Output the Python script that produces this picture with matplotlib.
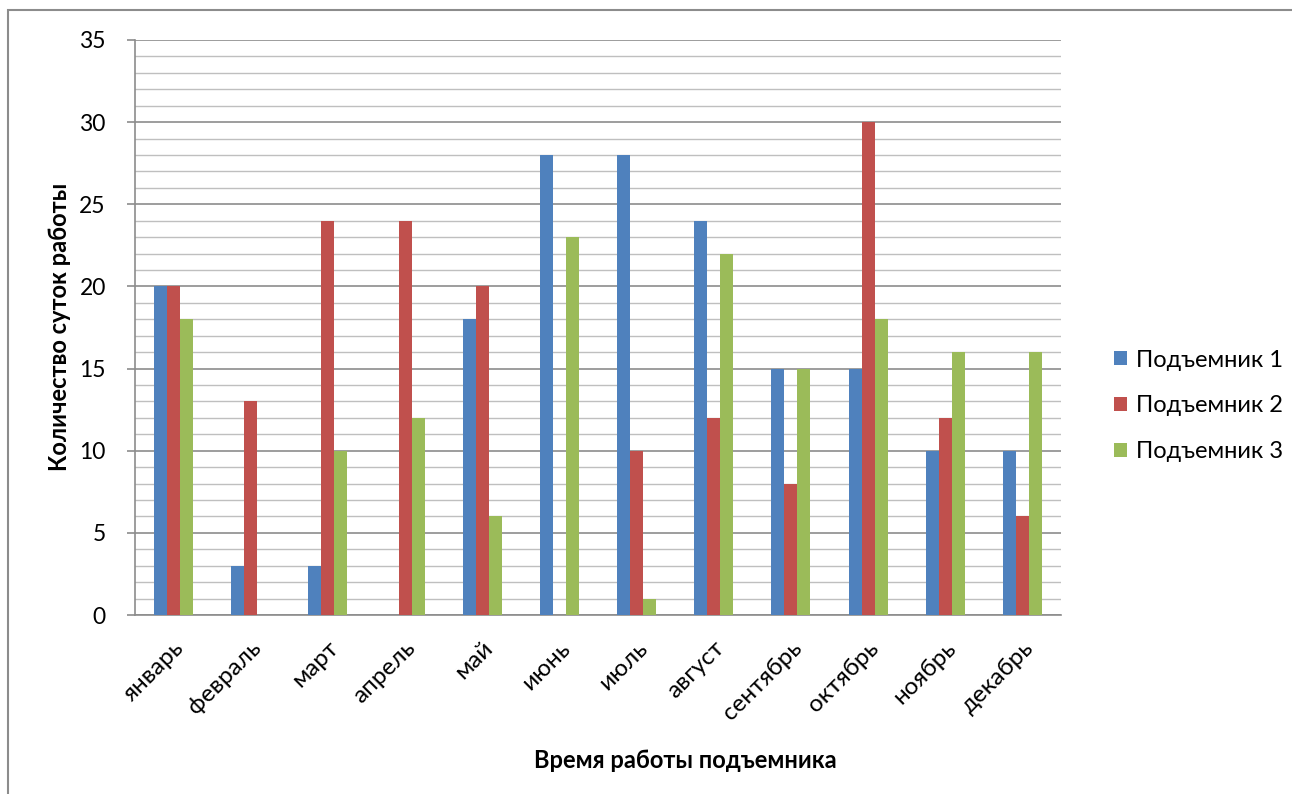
import numpy as np
import matplotlib.pyplot as plt
from matplotlib.patches import Rectangle

plt.rcParams['font.family'] = ['Lato', 'DejaVu Sans']

# Данные по месяцам
months = ['январь', 'февраль', 'март', 'апрель', 'май', 'июнь',
          'июль', 'август', 'сентябрь', 'октябрь', 'ноябрь', 'декабрь']
lift1 = [20, 3, 3, 0, 18, 28, 28, 24, 15, 15, 10, 10]
lift2 = [20, 13, 24, 24, 20, 0, 10, 12, 8, 30, 12, 6]
lift3 = [18, 0, 10, 12, 6, 23, 1, 22, 15, 18, 16, 16]
series_names = ['Подъемник 1', 'Подъемник 2', 'Подъемник 3']
colors = ['#4F81BD', '#C0504D', '#9BBB59']

W, H = 1292, 794
left, right, top, bottom = 135, 1061, 40, 615

fig = plt.figure(figsize=(W / 100, H / 100), dpi=100)
ax = fig.add_axes([left / W, 1 - bottom / H, (right - left) / W, (bottom - top) / H])

x = np.arange(len(months))
w = 0.168
for i, (vals, name, c) in enumerate(zip([lift1, lift2, lift3], series_names, colors)):
    ax.bar(x + (i - 1) * w, vals, width=w, color=c, label=name, zorder=3)

ax.set_xlim(-0.5, len(months) - 0.5)
ax.set_ylim(0, 35)
ax.set_yticks(np.arange(0, 36, 5))
ax.set_yticks(np.arange(0, 36, 1), minor=True)
ax.grid(axis='y', which='major', color='#8c8c8c', linewidth=1.2, zorder=0)
ax.grid(axis='y', which='minor', color='#bfbfbf', linewidth=1.0, zorder=0)
ax.tick_params(axis='y', which='major', length=6, width=1.2, color='#8c8c8c',
               labelsize=16.5, pad=15)
ax.tick_params(axis='y', which='minor', length=0)
ax.tick_params(axis='x', length=0, labelsize=17.5, pad=16)
ax.set_xticks(x)
ax.set_xticklabels(months, rotation=45, ha='right', rotation_mode='anchor')

for side in ['top', 'right']:
    ax.spines[side].set_visible(False)
for side in ['left', 'bottom']:
    ax.spines[side].set_color('#8c8c8c')
    ax.spines[side].set_linewidth(1.2)

fig.text(60 / W, 1 - 327 / H, 'Количество суток работы', rotation=90,
         ha='center', va='center', fontsize=17, fontweight='bold')
fig.text(685 / W, 1 - 760 / H, 'Время работы подъемника',
         ha='center', va='center', fontsize=17, fontweight='bold')

ax.legend(loc='center left', bbox_to_anchor=((1093 - left) / (right - left), (bottom - 406) / (bottom - top)),
          frameon=False, fontsize=17, handlelength=0.55, handleheight=0.55,
          handletextpad=0.35, labelspacing=1.05)

# Рамка вокруг диаграммы
fig.patches.append(Rectangle((8 / W, -0.01), 1 - 8 / W + 0.01, 1 - 10 / H + 0.01,
                             transform=fig.transFigure, fill=False,
                             edgecolor='#8c8c8c', linewidth=1.5))

fig.savefig('out.png', dpi=100)
